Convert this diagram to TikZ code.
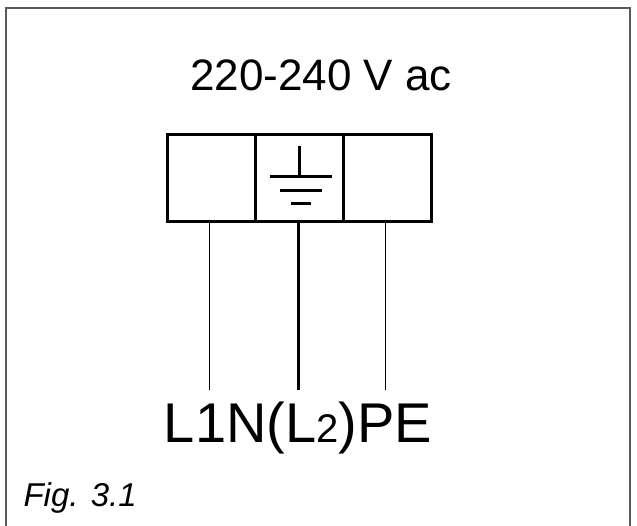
\documentclass[tikz,border=0pt]{standalone}
\usepackage{fontspec}
\setmainfont{Liberation Sans}
\begin{document}
\begin{tikzpicture}[x=1pt,y=-1pt,
    wire/.style={draw, line width=1pt},
    cell/.style={draw, line width=3pt, minimum width=88pt, minimum height=87pt, inner sep=0pt}]
    \useasboundingbox (0,0) rectangle (637,525);
    % frame
    \draw[line width=1.5pt, gray!70!black] (6,530) -- (6,8) -- (630,8) -- (630,530);

    % title
    \node (title) at (321,75) {\fontsize{44}{44}\selectfont 220-240 V ac};

    % terminal block
    \node[cell] (l) at (211,177.5) {};
    \node[cell] (n) at (299,177.5) {};
    \node[cell] (pe) at (387,177.5) {};

    % earth symbol
    \draw[line width=3pt] (299,146) -- (299,176);
    \draw[line width=3pt] (270,176) -- (332,176);
    \draw[line width=3pt] (280,190) -- (322,190);
    \draw[line width=3pt] (291,203) -- (311,203);

    % wires
    \coordinate (lend) at (209,390);
    \coordinate (nend) at (298,390);
    \coordinate (peend) at (385,390);
    \draw[wire] (l.south -| lend) -- (lend);
    \draw[wire, line width=3pt] (n.south -| nend) -- (nend);
    \draw[wire] (pe.south -| peend) -- (peend);

    % labels
    \node (lab) at (298,428) {\fontsize{56}{56}\selectfont L1N(L{\fontsize{40}{40}\selectfont 2})PE};
    \node[anchor=west] (fig) at (20,498) {\fontsize{33}{33}\selectfont\itshape Fig. 3.1};
\end{tikzpicture}
\end{document}
